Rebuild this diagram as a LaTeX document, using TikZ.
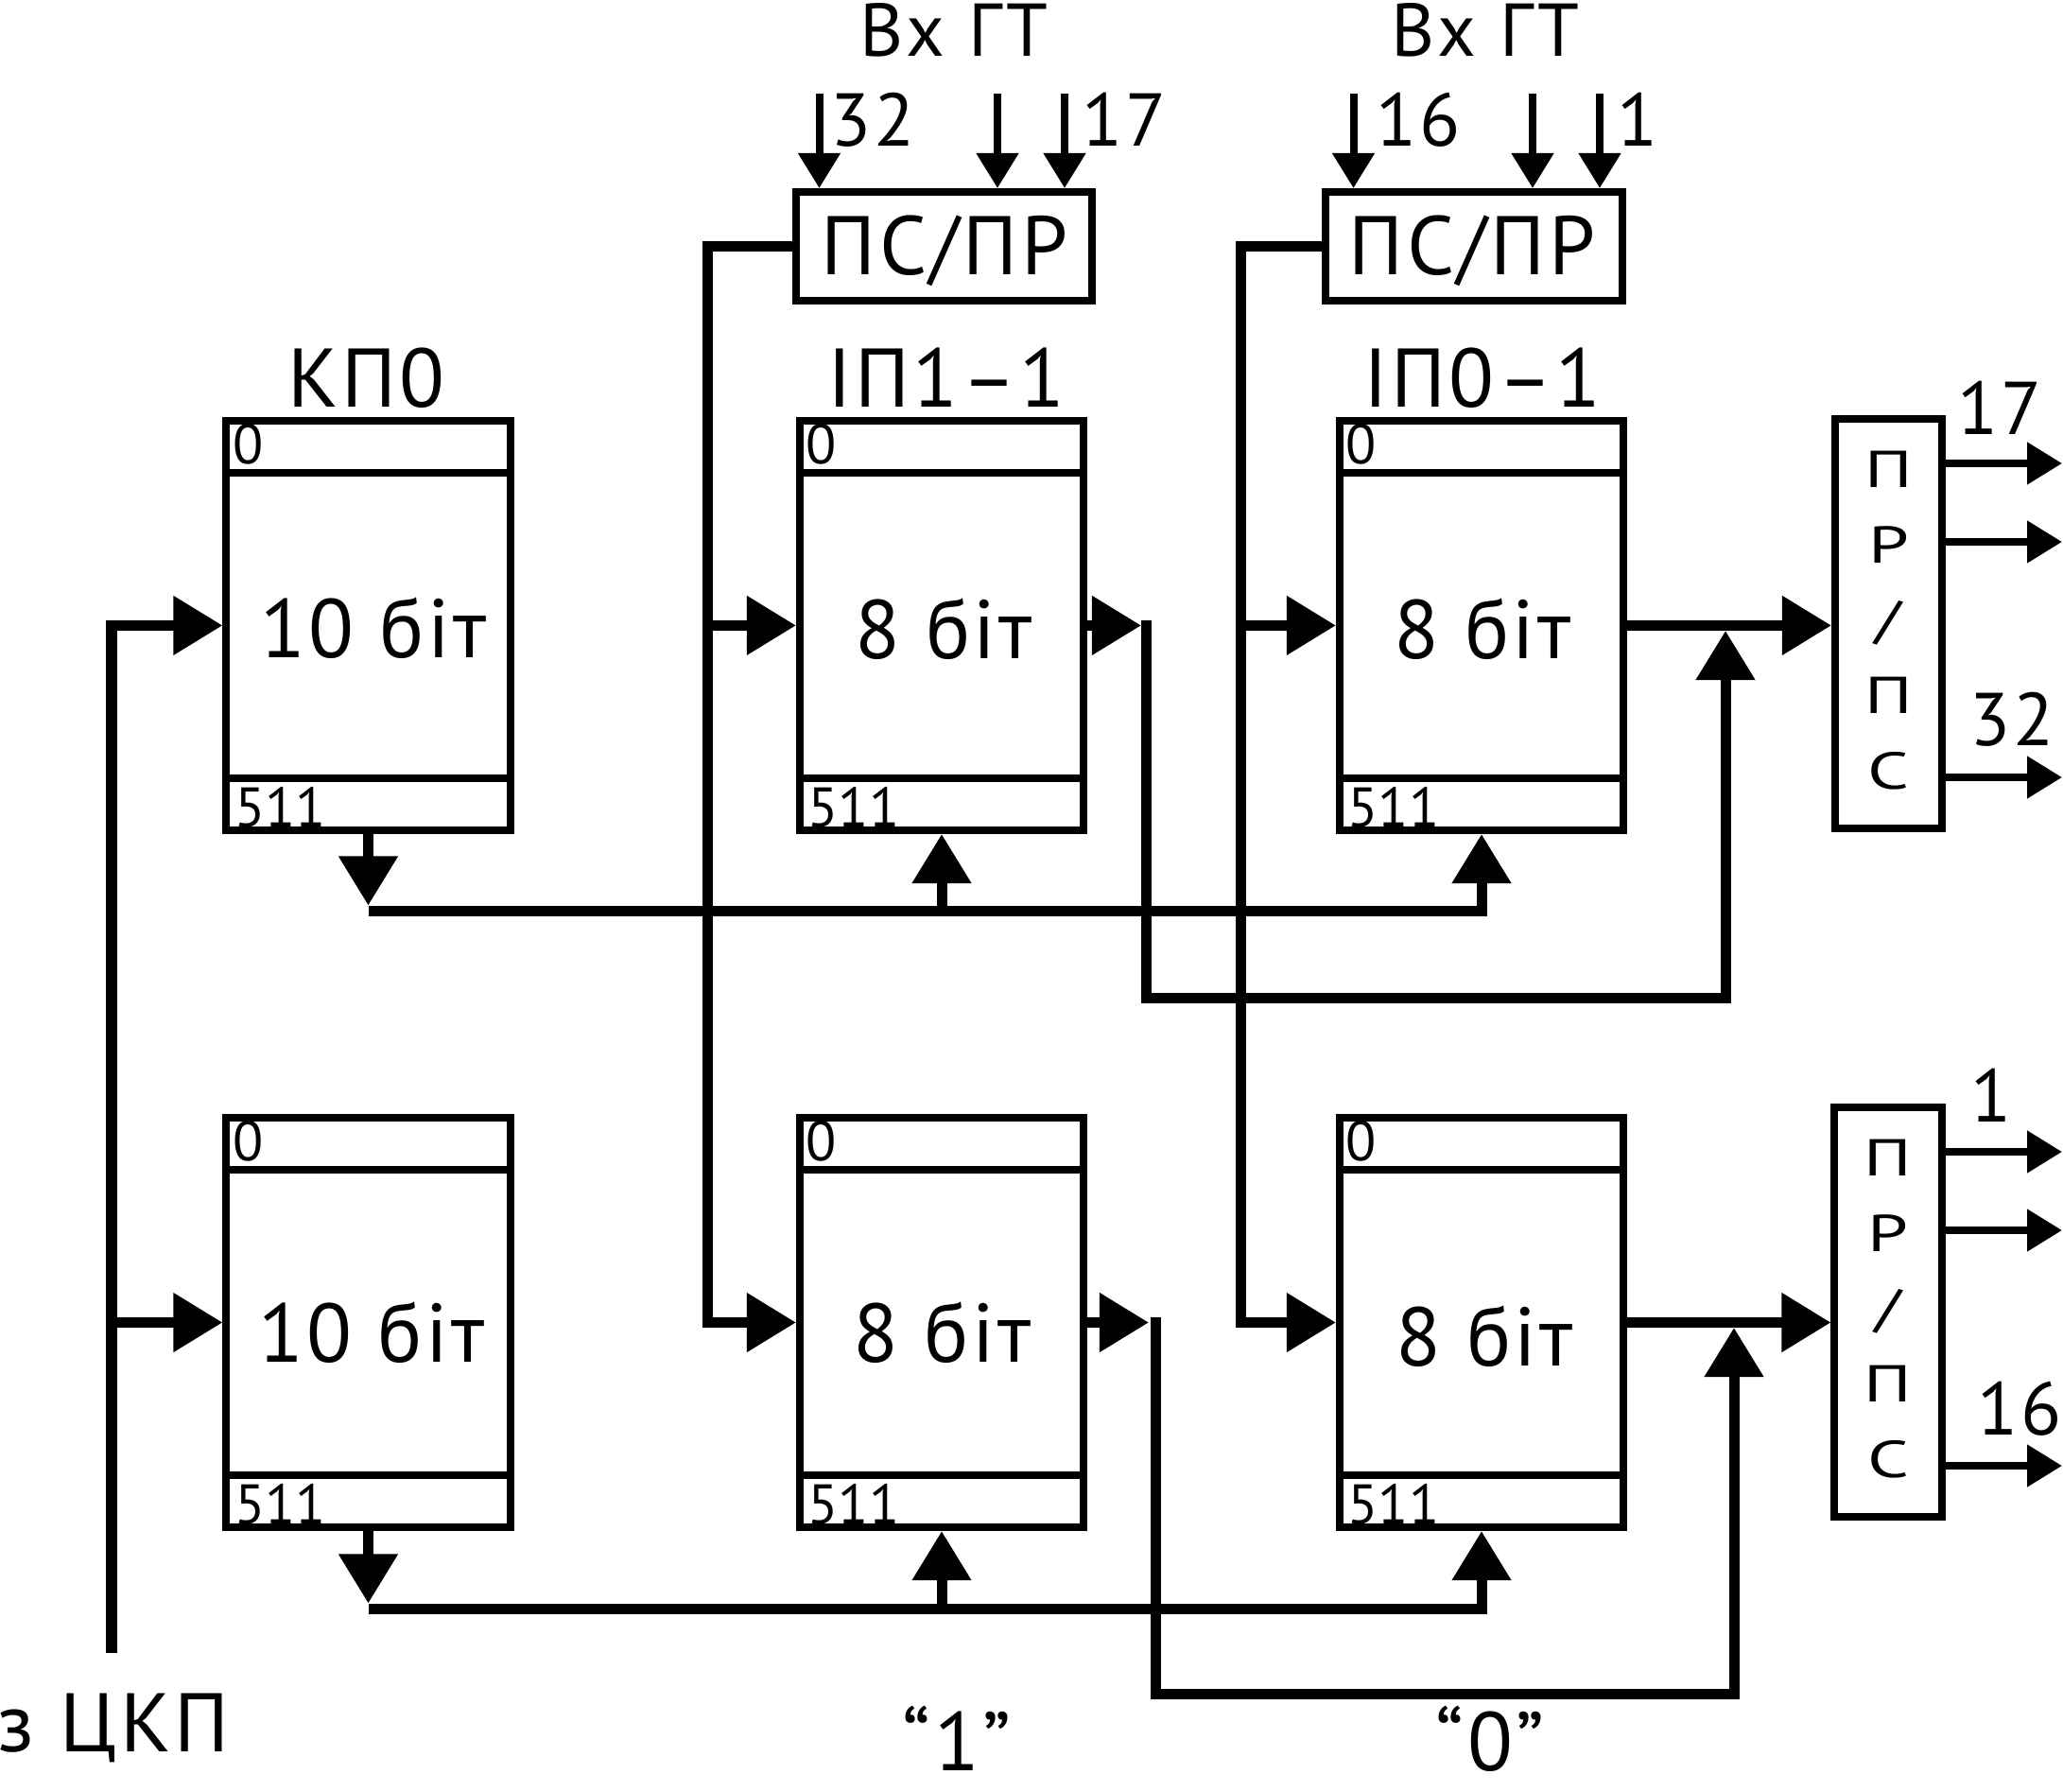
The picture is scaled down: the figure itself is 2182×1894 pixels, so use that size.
\documentclass[tikz,border=0pt]{standalone}
\usepackage{fontspec}
\setmainfont{PT Sans}[LetterSpace=4]
\newfontfamily\digfont{PT Sans}
\newfontfamily\widefont{PT Sans}[FakeStretch=1.4]
\usetikzlibrary{arrows.meta,calc}
\tikzset{
  bigT/.tip={Triangle[length=0.52cm,width=0.6cm]},
  smallT/.tip={Triangle[length=0.37cm,width=0.43cm]},
}
\begin{document}
\begin{tikzpicture}[x=0.01cm,y=-0.01cm,
  blk/.style={draw,line width=0.08cm,minimum width=3cm,minimum height=4.33cm,inner sep=0pt},
  psbox/.style={draw,line width=0.08cm,minimum height=1.15cm,inner sep=0pt},
  prbox/.style={draw,line width=0.08cm,minimum width=1.13cm,minimum height=4.33cm,inner sep=0pt},
  conn/.style={line width=0.11cm},
  thinl/.style={line width=0.08cm},
  big/.style={font=\fontsize{25}{25}\selectfont,inner sep=0pt},
  mid/.style={font=\fontsize{22.5}{22.5}\selectfont,inner sep=0pt},
  small/.style={font=\digfont\fontsize{16.8}{16.8}\selectfont,inner sep=0pt},
  prl/.style={font=\widefont\fontsize{15.6}{15.6}\selectfont,inner sep=0pt},
]
\useasboundingbox (0,0) rectangle (2182,1894);

% memory blocks
\node[blk] (k1) at (389.5,661.4) {};
\node[blk] (m1) at (996,661.4) {};
\node[blk] (r1) at (1567,661.4) {};
\node[blk] (k2) at (389.5,1398.5) {};
\node[blk] (m2) at (996,1398.5) {};
\node[blk] (r2) at (1567,1398.5) {};
\foreach \b in {k1,m1,r1,k2,m2,r2}{
  \draw[thinl] ($(\b.north west)+(0,59)$) -- ($(\b.north east)+(0,59)$);
  \draw[thinl] ($(\b.south west)+(0,-59)$) -- ($(\b.south east)+(0,-59)$);
  \node[small,anchor=base west] (\b-0) at ($(\b.north west)+(10,50)$) {0};
  \node[small,anchor=base west] (\b-511) at ($(\b.south west)+(12,-8)$) {511};
}
\node[big,anchor=base] (k1t) at (395,695) {10 біт};
\node[big,anchor=base] (m1t) at (998,696.7) {8 біт};
\node[big,anchor=base] (r1t) at (1568,696.7) {8 біт};
\node[big,anchor=base] (k2t) at (393,1440.5) {10 біт};
\node[big,anchor=base] (m2t) at (996.5,1440.5) {8 біт};
\node[big,anchor=base] (r2t) at (1570,1444) {8 біт};

% titles
\node[big,anchor=base] (tk) at (387.5,430) {КП0};
\node[big,anchor=base] (tm) at (1001,430) {ІП1–1};
\node[big,anchor=base] (tr) at (1568,430) {ІП0–1};

% PS/PR boxes
\node[psbox,minimum width=3.13cm] (ps1) at (998.4,260.5) {};
\node[psbox,minimum width=3.14cm] (ps2) at (1559,260.5) {};
\node[big,anchor=base] (ps1t) at (999,290) {ПС/ПР};
\node[big,anchor=base] (ps2t) at (1557,290) {ПС/ПР};
\node[mid,anchor=base] (vx1) at (1009,60) {Вх ГТ};
\node[mid,anchor=base] (vx2) at (1571,60) {Вх ГТ};

% inputs of PS/PR
\foreach \n/\x in {a1/866.5,a2/1055,a3/1126}{
  \coordinate (\n) at (\x,99);
  \draw[thinl,-{smallT}] (\n) -- (\n |- ps1.north);
}
\foreach \n/\x in {b1/1431.5,b2/1621,b3/1692}{
  \coordinate (\n) at (\x,99);
  \draw[thinl,-{smallT}] (\n) -- (\n |- ps2.north);
}
\node[mid,anchor=base west] (la1) at (878,155) {32};
\node[mid,anchor=base west] (la3) at (1144,155) {17};
\node[mid,anchor=base west] (lb1) at (1455,155) {16};
\node[mid,anchor=base west] (lb3) at (1710,155) {1};

% PR/PS boxes
\node[prbox] (pr1) at (1997.5,659.5) {};
\node[prbox] (pr2) at (1997,1387.5) {};
\foreach \p in {pr1,pr2}{
  \node[prl] (\p-l1) at ($(\p.north)+(0,57)$) {П};
  \node[prl] (\p-l2) at ($(\p.north)+(0,137)$) {Р};
  \node[prl] (\p-l3) at ($(\p.north)+(0,220)$) {/};
  \node[prl] (\p-l4) at ($(\p.north)+(0,296)$) {П};
  \node[prl] (\p-l5) at ($(\p.north)+(0,376)$) {С};
}
\coordinate (o1) at (2181,490);
\coordinate (o2) at (2181,573);
\coordinate (o3) at (2181,822);
\coordinate (o4) at (2181,1218);
\coordinate (o5) at (2181,1301);
\coordinate (o6) at (2181,1550);
\foreach \o/\p in {o1/pr1,o2/pr1,o3/pr1,o4/pr2,o5/pr2,o6/pr2}{
  \draw[thinl,-{smallT}] (\o -| \p.east) -- (\o);
}
\node[mid,anchor=base] (lo1) at (2115,459) {17};
\node[mid,anchor=base] (lo3) at (2128,788) {32};
\node[mid,anchor=base] (lo4) at (2106,1186) {1};
\node[mid,anchor=base] (lo6) at (2136,1517.7) {16};

% clock input
\coordinate (zc) at (118,1748);
\coordinate (zb) at (118,1398.5);
\draw[conn,-{bigT}] (zc) |- (k1.west);
\draw[conn,-{bigT}] (zb) -- (k2.west);
\node[big,anchor=base west] (zt) at (-3,1852) {з ЦКП};

% PS/PR outputs into blocks
\coordinate (vm) at (748,661.4);
\coordinate (vr) at (1312,661.4);
\draw[conn,-{bigT}] (ps1.west) -| (vm |- m2.west) -- (m2.west);
\draw[conn,-{bigT}] (vm) -- (m1.west);
\draw[conn,-{bigT}] (ps2.west) -| (vr |- r2.west) -- (r2.west);
\draw[conn,-{bigT}] (vr) -- (r1.west);

% block outputs
\coordinate (c1) at (1207,661.4);
\coordinate (c2) at (1212,656);
\coordinate (c3) at (1825,667);
\draw[conn,-{bigT}] (m1.east) -- (c1);
\draw[conn,-{bigT}] (c2) -- (1212,1055) -- (1825,1055) -- (c3);
\draw[conn,-{bigT}] (r1.east) -- (r1.east -| pr1.west);

\coordinate (d1) at (1215,1398.5);
\coordinate (d2) at (1222,1393);
\coordinate (d3) at (1834,1404);
\draw[conn,-{bigT}] (m2.east) -- (d1);
\draw[conn,-{bigT}] (d2) -- (1222,1791) -- (1834,1791) -- (d3);
\draw[conn,-{bigT}] (r2.east) -- (r2.east -| pr2.west);

% address buses
\coordinate (bus1) at (389.5,963);
\coordinate (bus2) at (389.5,1701);
\draw[conn,-{bigT}] (k1.south) -- ($(bus1)+(0,-5.5)$);
\draw[conn,-{bigT}] (bus1) -| (r1.south);
\draw[conn,-{bigT}] (bus1 -| m1.south) -- (m1.south);
\draw[conn,-{bigT}] (k2.south) -- ($(bus2)+(0,-5.5)$);
\draw[conn,-{bigT}] (bus2) -| (r2.south);
\draw[conn,-{bigT}] (bus2 -| m2.south) -- (m2.south);

% bottom labels
\node[big,anchor=base] (q1) at (1012,1872) {“1”};
\node[big,anchor=base] (q0) at (1576,1872) {“0”};
\end{tikzpicture}
\end{document}
